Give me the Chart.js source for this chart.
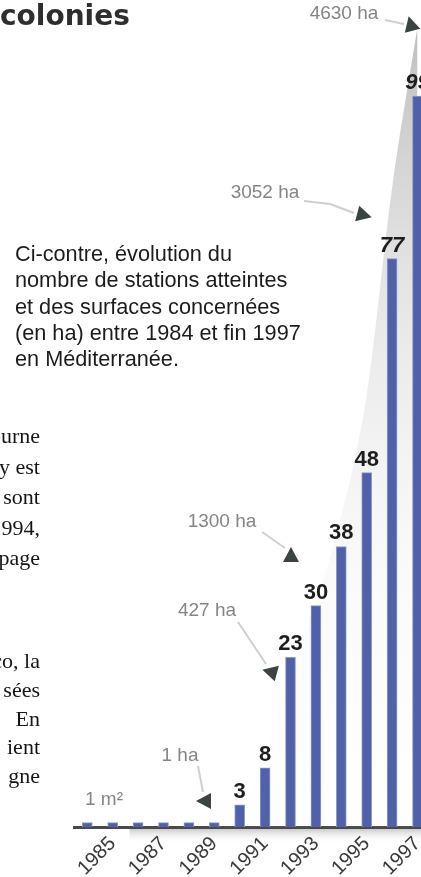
<!DOCTYPE html>
<html>
<head>
<meta charset="utf-8">
<script src="https://cdn.jsdelivr.net/npm/chart.js@4.4.1/dist/chart.umd.min.js"></script>
<style>
  html, body { margin: 0; padding: 0; background: #fff; width: 421px; height: 877px; overflow: hidden; }
  body { position: relative; }
  #chart { position: absolute; left: 0; top: 0; z-index: 1; }
  .title { position: absolute; left: 0; top: 0; z-index: 2; font: bold 28px/32px "DejaVu Sans", sans-serif; color: #2e2e2e; white-space: nowrap; }
  .caption { position: absolute; left: 15px; top: 241px; z-index: 2; font: 21.7px/26.3px "Liberation Sans", Arial, sans-serif; color: #1c1c1c; white-space: nowrap; }
  .body { position: absolute; left: -200px; width: 240px; z-index: 2; text-align: right; font: 22px "Liberation Serif", "Times New Roman", serif; color: #151515; white-space: nowrap; }
  .p1 { top: 421px; line-height: 30.5px; }
  .p2 { top: 647px; line-height: 28.8px; }
</style>
</head>
<body>
<div class="title">colonies</div>
<div class="caption">Ci-contre, évolution du<br>nombre de stations atteintes<br>et des surfaces concernées<br>(en ha) entre 1984 et fin 1997<br>en Méditerranée.</div>
<div class="body p1">séjourne<br>y est<br>sont<br>1994,<br>page</div>
<div class="body p2">Monaco, la<br>sées<br>En<br>ient<br>gne</div>
<canvas id="chart" width="440" height="877"></canvas>
<script>
// données
const years = ['1984', '1985', '1986', '1987', '1988', '1989', '1990', '1991', '1992', '1993', '1994', '1995', '1996', '1997'];
const shownYears = ['1985', '1987', '1989', '1991', '1993', '1995', '1997'];
const stations = [0.6, 0.6, 0.6, 0.6, 0.6, 0.6, 3, 8, 23, 30, 38, 48, 77, 99];
const surfaceHa = [0.0001, 0.0001, 0.0001, 0.0001, 0.0001, 1, 100, 427, 900, 1300, 1800, 2500, 3700, 4630];

// étiquettes des surfaces (texte, flèche)
const surfaceNotes = [
    { text: '1 m²', x: 104, y: 800 },
    { text: '1 ha', x: 180, y: 756, line: [[198, 766], [203, 792]], arrow: [205, 801], angle: 180 },
    { text: '427 ha', x: 207, y: 611, line: [[238, 622], [266, 664]], arrow: [271, 672], angle: 195 },
    { text: '1300 ha', x: 222, y: 522, line: [[262, 532], [285, 548]], arrow: [291, 556], angle: -90 },
    { text: '3052 ha', x: 265, y: 193, line: [[304, 201], [330, 204], [354, 213]], arrow: [363, 215], angle: 15 },
    { text: '4630 ha', x: 344, y: 14, line: [[385, 20], [404, 24]], arrow: [411, 25], angle: -105 }
];

const canvas = document.getElementById('chart');

const surfaceFill = (context) => {
    const chart = context.chart;
    const area = chart.chartArea;
    if (!area) return 'rgba(200,200,200,0.5)';
    const g = chart.ctx.createLinearGradient(0, area.top, 0, area.bottom);
    g.addColorStop(0, 'rgba(172,172,172,0.8)');
    g.addColorStop(0.35, 'rgba(210,210,210,0.55)');
    g.addColorStop(0.7, 'rgba(235,235,235,0.25)');
    g.addColorStop(1, 'rgba(245,245,245,0.05)');
    return g;
};

// ombre sous l'axe
const axisShadow = {
    id: 'axisShadow',
    beforeDraw(chart) {
        const { ctx, chartArea } = chart;
        const g = ctx.createLinearGradient(0, chartArea.bottom + 1, 0, chartArea.bottom + 16);
        g.addColorStop(0, 'rgba(170,170,170,0.7)');
        g.addColorStop(1, 'rgba(255,255,255,0)');
        ctx.save();
        ctx.fillStyle = g;
        ctx.fillRect(chartArea.left + 55, chartArea.bottom + 1, chartArea.right - chartArea.left - 55, 15);
        ctx.restore();
    }
};

// nombres au-dessus des barres
const valueLabels = {
    id: 'valueLabels',
    afterDatasetsDraw(chart) {
        const { ctx } = chart;
        const meta = chart.getDatasetMeta(0);
        ctx.save();
        ctx.textAlign = 'center';
        ctx.textBaseline = 'alphabetic';
        ctx.fillStyle = '#1e1e1e';
        meta.data.forEach((bar, i) => {
            const v = stations[i];
            if (v < 1) return;
            ctx.font = (i >= 12 ? 'italic ' : '') + 'bold 22px "Liberation Sans", Arial, sans-serif';
            ctx.fillText(String(v), bar.x, bar.y - 7);
        });
        ctx.restore();
    }
};

// annotations des surfaces
const notes = {
    id: 'notes',
    afterDraw(chart) {
        const { ctx } = chart;
        ctx.save();
        surfaceNotes.forEach(n => {
            if (n.line) {
                ctx.strokeStyle = 'rgba(175,175,175,0.6)';
                ctx.lineWidth = 2;
                ctx.beginPath();
                n.line.forEach((p, k) => k ? ctx.lineTo(p[0], p[1]) : ctx.moveTo(p[0], p[1]));
                ctx.stroke();
            }
            ctx.font = '19px "Liberation Sans", Arial, sans-serif';
            ctx.textAlign = 'center';
            ctx.textBaseline = 'middle';
            ctx.fillStyle = '#858585';
            ctx.fillText(n.text, n.x, n.y);
            if (n.arrow) {
                const a = n.angle * Math.PI / 180;
                ctx.translate(n.arrow[0], n.arrow[1]);
                ctx.rotate(a);
                ctx.fillStyle = '#3c4441';
                ctx.beginPath();
                ctx.moveTo(9, 0);
                ctx.lineTo(-6, -8);
                ctx.lineTo(-6, 8);
                ctx.closePath();
                ctx.fill();
                ctx.setTransform(1, 0, 0, 1, 0, 0);
            }
        });
        ctx.restore();
    }
};

new Chart(canvas, {
    type: 'bar',
    data: {
        labels: years,
        datasets: [{
            type: 'bar',
            label: 'Stations',
            data: stations,
            yAxisID: 'y',
            backgroundColor: '#5161a9',
            borderColor: '#8f9acb',
            borderWidth: 1,
            borderSkipped: 'bottom',
            barThickness: 10,
            order: 1
        }, {
            type: 'line',
            label: 'Surface (ha)',
            data: surfaceHa,
            yAxisID: 'y2',
            fill: 'origin',
            backgroundColor: surfaceFill,
            borderWidth: 0,
            pointRadius: 0,
            cubicInterpolationMode: 'monotone',
            order: 2
        }]
    },
    options: {
        responsive: false,
        animation: false,
        devicePixelRatio: 1,
        layout: {
            padding: { left: 74.6, right: 9.8, top: 15, bottom: 0 }
        },
        scales: {
            x: {
                grid: { display: false, drawTicks: false },
                border: { display: true, color: '#4a4a4a', width: 3 },
                ticks: {
                    autoSkip: false,
                    minRotation: 45,
                    maxRotation: 45,
                    padding: 5,
                    color: '#3a3a3a',
                    font: { family: '"Liberation Sans", Arial, sans-serif', size: 20 },
                    callback: (v, i) => shownYears.includes(years[i]) ? years[i] : ''
                },
                afterFit: (scale) => { scale.height = 50; }
            },
            y: { display: false, min: 0, max: 110 },
            y2: { display: false, min: 0, max: 4700 }
        },
        plugins: {
            legend: { display: false },
            tooltip: { enabled: false }
        }
    },
    plugins: [axisShadow, valueLabels, notes]
});
</script>
</body>
</html>
